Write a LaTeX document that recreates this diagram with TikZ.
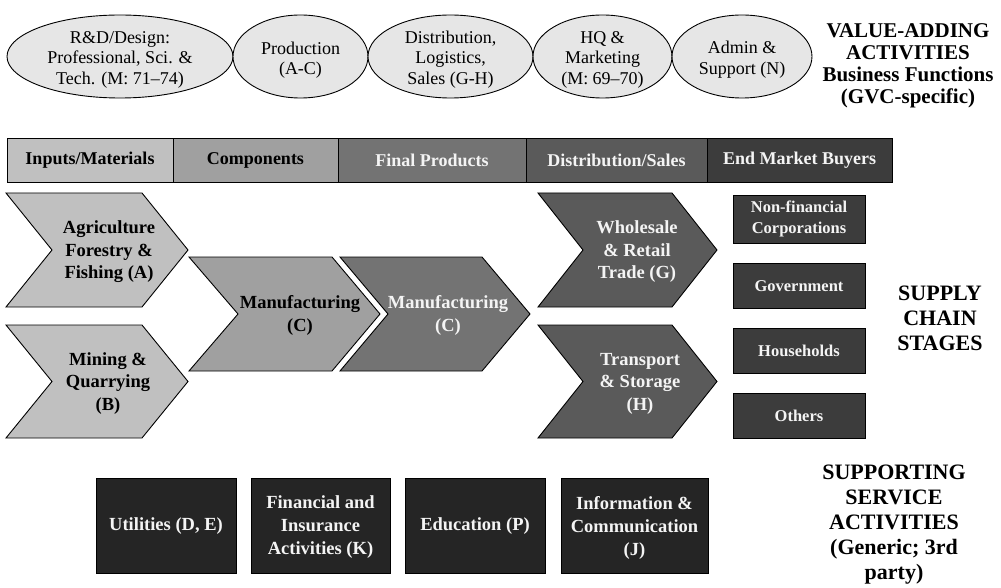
\documentclass[tikz,border=0pt]{standalone}
\usepackage{fontspec}
\setmainfont{Liberation Serif}
\usetikzlibrary{shapes.geometric}
\definecolor{ellfill}{HTML}{E6E6E6}
\definecolor{cA}{HTML}{C0C0C0}
\definecolor{cB}{HTML}{A0A0A0}
\definecolor{cC}{HTML}{737373}
\definecolor{cD}{HTML}{5A5A5A}
\definecolor{cE}{HTML}{3C3C3C}
\definecolor{cF}{HTML}{252525}
\definecolor{wtext}{HTML}{F4F4F4}
\tikzset{
  ell/.style={ellipse, draw, fill=ellfill, inner sep=0pt, line width=0.9pt, minimum height=83pt},
  elltext/.style={align=center, inner sep=0pt, font=\fontsize{18}{20.5}\selectfont},
  hdr/.style={rectangle, draw, line width=0.9pt, minimum height=44pt, inner sep=0pt,
    font=\bfseries\fontsize{18}{21}\selectfont},
  chev/.style={draw, line width=0.9pt},
  chevtext/.style={align=center, inner sep=0pt, font=\bfseries\fontsize{18.5}{22.5}\selectfont},
  buyer/.style={rectangle, draw, line width=0.9pt, fill=cE, text=wtext, minimum width=132pt,
    minimum height=45pt, inner sep=0pt, align=center, font=\bfseries\fontsize{16.5}{21}\selectfont},
  svc/.style={rectangle, draw, line width=0.9pt, fill=cF, minimum height=95pt, inner sep=0pt},
  svctext/.style={text=wtext, align=center, inner sep=0pt, font=\bfseries\fontsize{18.5}{23}\selectfont},
  side/.style={align=center, inner sep=0pt, font=\bfseries\fontsize{22}{25}\selectfont},
}
\begin{document}
\begin{tikzpicture}[x=1pt,y=-1pt]
\useasboundingbox (0,0) rectangle (1001,588);
% value-adding ellipses
\node[ell, minimum width=226pt] (rd) at (120,56.5) {};
\node[ell, minimum width=135pt] (prod) at (300.5,56.5) {};
\node[ell, minimum width=165pt] (dist) at (450.5,56.5) {};
\node[ell, minimum width=139pt] (hq) at (602.5,56.5) {};
\node[ell, minimum width=140pt] (admin) at (742,56.5) {};
\node[elltext] (rdt) at (120,59.5) {R\&D/Design:\\Professional, Sci. \&\\Tech. (M: 71--74)};
\node[elltext] (prodt) at (300.5,60) {Production\\(A-C)};
\node[elltext] (distt) at (450.5,59.5) {Distribution,\\Logistics,\\Sales (G-H)};
\node[elltext] (hqt) at (602.5,59.5) {HQ \&\\Marketing\\(M: 69--70)};
\node[elltext] (admint) at (742,59.5) {Admin \&\\Support (N)};
\node[side, font=\bfseries\fontsize{21}{22}\selectfont] (value) at (908,66) {VALUE-ADDING\\ACTIVITIES\\Business Functions\\(GVC-specific)};
% header bar
\node[hdr, fill=cA, minimum width=166pt] (h1) at (90,160) {Inputs/Materials};
\node[hdr, fill=cB, minimum width=165pt] (h2) at (255.5,160) {Components};
\node[hdr, fill=cC, minimum width=188pt, text=wtext] (h3) at (432,160) {Final Products};
\node[hdr, fill=cD, minimum width=181pt, text=wtext] (h4) at (616.5,160) {Distribution/Sales};
\node[hdr, fill=cE, minimum width=185pt, text=wtext] (h5) at (799.5,160) {End Market Buyers};
% chevrons
\filldraw[chev, fill=cA] (6,193) -- (142,193) -- (188,250) -- (142,307) -- (6,307) -- (52,250) -- cycle;
\filldraw[chev, fill=cA] (6,325) -- (142,325) -- (188,381.5) -- (142,438) -- (6,438) -- (52,381.5) -- cycle;
\filldraw[chev, fill=cB] (189,257) -- (332,257) -- (380,314) -- (332,371) -- (189,371) -- (238,314) -- cycle;
\filldraw[chev, fill=cC] (340,257) -- (482,257) -- (530,314) -- (482,371) -- (340,371) -- (388,314) -- cycle;
\filldraw[chev, fill=cD] (538,193) -- (672,193) -- (717,250) -- (672,307) -- (538,307) -- (583,250) -- cycle;
\filldraw[chev, fill=cD] (538,325) -- (672,325) -- (717,381.5) -- (672,438) -- (538,438) -- (583,381.5) -- cycle;
\node[chevtext] (agri) at (109,252) {Agriculture\\Forestry \&\\Fishing (A)};
\node[chevtext] (mining) at (108,383.5) {Mining \&\\Quarrying\\(B)};
\node[chevtext] (mfg1) at (300,315.5) {Manufacturing\\(C)};
\node[chevtext, text=wtext] (mfg2) at (448,315.5) {Manufacturing\\(C)};
\node[chevtext, text=wtext] (whole) at (637,252) {Wholesale\\\& Retail\\Trade (G)};
\node[chevtext, text=wtext] (trans) at (640,383.5) {Transport\\\& Storage\\(H)};
% end market buyers
\node[buyer, minimum height=48pt] (nfc) at (799,219) {Non-financial\\Corporations};
\node[buyer] (gov) at (799,286) {Government};
\node[buyer] (hh) at (799,351) {Households};
\node[buyer] (oth) at (799,416) {Others};
\node[side] (supply) at (940,318) {SUPPLY\\CHAIN\\STAGES};
% supporting services
\node[svc, minimum width=140pt] (util) at (166,525.5) {};
\node[svc, minimum width=139pt] (fin) at (320.5,525.5) {};
\node[svc, minimum width=140pt] (edu) at (475,525.5) {};
\node[svc, minimum width=147pt] (info) at (634.5,525.5) {};
\node[svctext] (utilt) at (166,526.5) {Utilities (D, E)};
\node[svctext] (fint) at (320.5,527.5) {Financial and\\Insurance\\Activities (K)};
\node[svctext] (edut) at (475,526.5) {Education (P)};
\node[svctext] (infot) at (634.5,527.5) {Information \&\\Communication\\(J)};
\node[side] (support) at (894,524.5) {SUPPORTING\\SERVICE\\ACTIVITIES\\(Generic; 3rd\\party)};
\end{tikzpicture}
\end{document}
